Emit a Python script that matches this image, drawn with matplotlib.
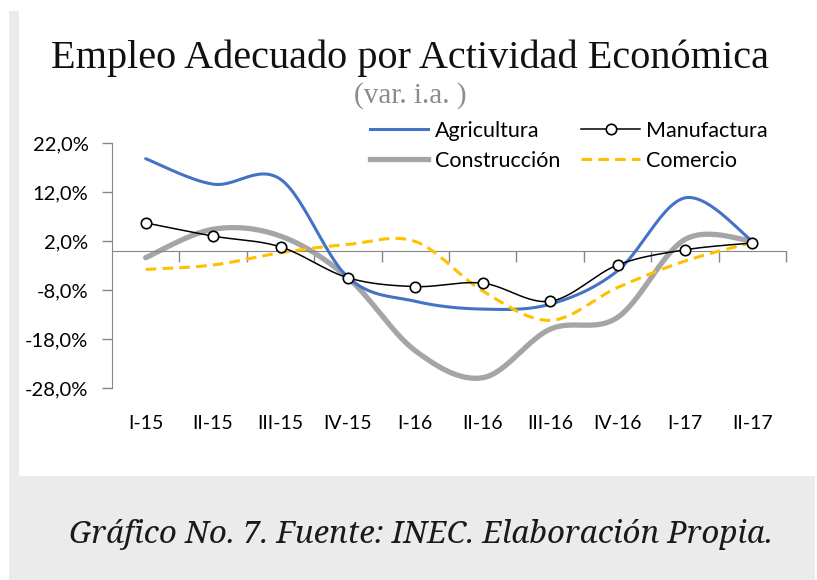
import numpy as np
import matplotlib
matplotlib.use("Agg")
import matplotlib.pyplot as plt
from matplotlib.patches import Rectangle
from matplotlib.lines import Line2D

# data (var. i.a., %)
quarters = ["I-15", "II-15", "III-15", "IV-15", "I-16", "II-16", "III-16", "IV-16", "I-17", "II-17"]
agricultura = [18.8, 13.6, 14.6, -5.4, -10.3, -11.9, -10.9, -4.1, 10.8, 2.0]
manufactura = [5.7, 3.0, 0.8, -5.5, -7.3, -6.6, -10.3, -2.9, 0.2, 1.6]
construccion = [-1.4, 4.4, 3.0, -5.5, -20.4, -25.9, -16.0, -13.6, 2.3, 2.0]
comercio = [-3.8, -2.9, -0.4, 1.3, 1.9, -8.2, -14.2, -7.5, -2.1, 1.7]

yticks = [22, 12, 2, -8, -18, -28]

W, H = 817, 580


def smooth(x, y, n=30):
    # bezier smoothing like the spreadsheet "smoothed line"
    x = np.asarray(x, float)
    y = np.asarray(y, float)
    px = np.concatenate([[x[0]], x, [x[-1]]])
    py = np.concatenate([[y[0]], y, [y[-1]]])
    xs, ys = [], []
    t = np.linspace(0, 1, n)
    for i in range(len(x) - 1):
        p0 = np.array([px[i + 1], py[i + 1]])
        p3 = np.array([px[i + 2], py[i + 2]])
        c1 = p0 + (np.array([px[i + 2], py[i + 2]]) - np.array([px[i], py[i]])) / 6
        c2 = p3 - (np.array([px[i + 3], py[i + 3]]) - np.array([px[i + 1], py[i + 1]])) / 6
        b = ((1 - t) ** 3)[:, None] * p0 + (3 * (1 - t) ** 2 * t)[:, None] * c1 \
            + (3 * (1 - t) * t ** 2)[:, None] * c2 + (t ** 3)[:, None] * p3
        xs.append(b[:, 0])
        ys.append(b[:, 1])
    return np.concatenate(xs), np.concatenate(ys)


fig = plt.figure(figsize=(W / 100, H / 100), dpi=100)
fig.patch.set_facecolor("white")

# grey frame bits of the page
fig.patches.append(Rectangle((9 / W, 0), 10 / W, 1 - 11 / H, transform=fig.transFigure,
                             facecolor="#ebebeb", edgecolor="none", zorder=0))
fig.patches.append(Rectangle((9 / W, 0), 806 / W, 1 - 476 / H, transform=fig.transFigure,
                             facecolor="#ebebeb", edgecolor="none", zorder=0))

ax = fig.add_axes([112 / W, 1 - 388 / H, 674 / W, 245 / H])
ax.set_facecolor("none")

dash = (0, (3.5, 2))
x = np.arange(len(quarters))
sx, sy = smooth(x, agricultura)
ax.plot(sx, sy, color="#4472C4", lw=2.2, zorder=3, solid_capstyle="round")
sx, sy = smooth(x, construccion)
ax.plot(sx, sy, color="#A5A5A5", lw=3.8, zorder=2, solid_capstyle="round")
sx, sy = smooth(x, comercio)
ax.plot(sx, sy, color="#FFC000", lw=2.2, ls=dash, zorder=4)
sx, sy = smooth(x, manufactura)
ax.plot(sx, sy, color="black", lw=1.1, zorder=5)
ax.plot(x, manufactura, ls="none", marker="o", ms=7.5, mfc="white", mec="black", mew=1.2, zorder=6)

ax.set_xlim(-0.5, len(quarters) - 0.5)
ax.set_ylim(-28, 22)
ax.set_yticks(yticks)
ax.set_yticklabels([f"{v:.1f}%".replace(".", ",") for v in yticks],
                   fontsize=14.5, family=["Lato", "DejaVu Sans"])
ax.tick_params(axis="y", direction="out", length=7, width=1, color="#868686", pad=10)

for s in ["top", "right"]:
    ax.spines[s].set_visible(False)
ax.spines["left"].set_color("#868686")
ax.spines["bottom"].set_position(("data", 0))
ax.spines["bottom"].set_color("#868686")

ax.set_xticks(x)
ax.set_xticklabels(quarters, fontsize=14, family=["Lato", "DejaVu Sans"])
ax.tick_params(axis="x", length=0, pad=118)
ax.set_xticks(np.arange(0.5, len(quarters)), minor=True)
ax.tick_params(axis="x", which="minor", direction="out", length=8, width=1, color="#868686")

# title
fig.text(0.502, 1 - 58 / H, "Empleo Adecuado por Actividad Económica", ha="center", va="center",
         fontsize=29, family=["Liberation Serif", "DejaVu Serif"], color="#111111")
fig.text(0.502, 1 - 96 / H, "(var. i.a. )", ha="center", va="center",
         fontsize=21, family=["Liberation Serif", "DejaVu Serif"], color="#8c8c8c")

# legend
handles = [
    Line2D([], [], color="#4472C4", lw=2.2),
    Line2D([], [], color="#A5A5A5", lw=3.8),
    Line2D([], [], color="black", lw=1.1, marker="o", ms=7.5, mfc="white", mec="black", mew=1.2),
    Line2D([], [], color="#FFC000", lw=2.2, ls=dash),
]
labels = ["Agricultura", "Construcción", "Manufactura", "Comercio"]
fig.legend(handles, labels, ncol=2, loc="upper left", bbox_to_anchor=(370 / W, 1 - 121 / H),
           frameon=False, prop={"family": ["Lato", "DejaVu Sans"], "size": 15.5},
           handlelength=2.7, handletextpad=0.3, columnspacing=1.0, labelspacing=0.45,
           borderaxespad=0, borderpad=0)

# caption
fig.text(0.515, 1 - 535 / H, "Gráfico No. 7. Fuente: INEC. Elaboración Propia.", ha="center", va="center",
         fontsize=22.5, style="italic", family=["Noto Serif", "DejaVu Serif"], color="#1a1a1a")

fig.savefig("out.png", dpi=100, facecolor=fig.get_facecolor())
